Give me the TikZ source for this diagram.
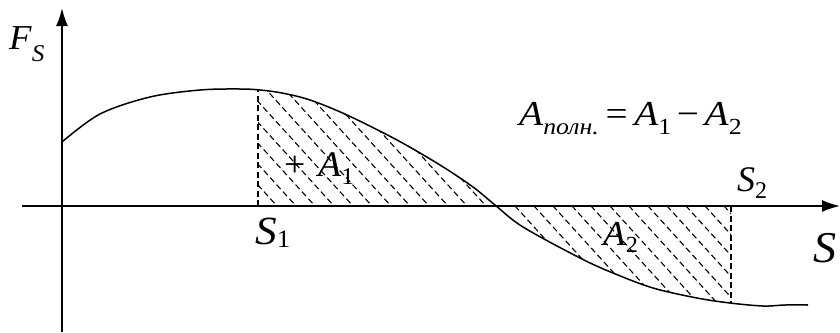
\documentclass[tikz,border=0pt]{standalone}
\usepackage{fontspec}
\setmainfont{Liberation Serif}
\usetikzlibrary{arrows.meta}
\newcommand{\crv}{plot[smooth,tension=0.55] coordinates {(62,142) (100,114) (150,97) (200,90) (240,89) (260,90) (282,93) (310,100) (347,115) (397,140) (440,165) (473,187) (495,205) (523,227) (580,258) (613,273) (653,288) (697,298) (730,303) (763,306) (785,305) (808,305)}}
\newcommand{\lsub}[3]{\raisebox{-#1pt}{\fontsize{#2}{#2}\selectfont #3}}
\newcommand{\fsz}[1]{\fontsize{#1}{#1}\selectfont}
\newcommand{\wide}[2]{\scalebox{#1}[1]{#2}}
\tikzset{
  axis/.style={line width=1.8pt,-{Latex[length=18pt,width=12pt]}},
  fcurve/.style={line width=1.5pt},
  hatch/.style={line width=1.1pt,dash pattern=on 6pt off 3.5pt},
  lbl/.style={inner sep=0pt,anchor=base west},
}
\begin{document}
\begin{tikzpicture}[x=1pt,y=-1pt]
\useasboundingbox (0,0) rectangle (840,332);
% hatching region 1 (above axis)
\begin{scope}
  \clip (258,0) rectangle (731,206);
  \clip \crv -- (808,340) -- (62,340) -- cycle;
  \foreach \a in {258,277,...,760}
    \draw[hatch] (\a-160,206-176) -- (\a+140,206+154);
\end{scope}
% hatching region 2 (below axis)
\begin{scope}
  \clip (258,206) rectangle (731,340);
  \clip \crv -- (808,-10) -- (62,-10) -- cycle;
  \foreach \a in {496,515,...,820}
    \draw[hatch] (\a-160,206-176) -- (\a+140,206+154);
\end{scope}
% axes
\coordinate (yb) at (62,332);
\coordinate (yt) at (62,8);
\coordinate (xl) at (22,206);
\coordinate (xr) at (840,206);
\draw[axis] (yb) -- (yt);
\draw[axis] (xl) -- (xr);
% curve
\draw[fcurve] \crv;
% dashed verticals
\coordinate (s1b) at (258,206);
\coordinate (s1t) at (258,90);
\coordinate (s2t) at (731,206);
\coordinate (s2b) at (731,303);
\draw[hatch] (s1b) -- (s1t);
\draw[hatch] (s2t) -- (s2b);
% labels
\node[lbl] (fs) at (9,49) {\wide{1.05}{\fsz{35}\textit{F}\lsub{12}{24}{\textit{S}}}};
\node[lbl] (s1) at (255,244) {\wide{1.08}{\fsz{40}\textit{S}\lsub{3}{25}{1}}};
\node[lbl] (s2) at (737,191) {\wide{1.0}{\fsz{36}\textit{S}\lsub{7}{24}{2}}};
\node[lbl] (s) at (813,262) {\wide{1.05}{\fsz{44}\textit{S}}};
\node[lbl] (f) at (519,125) {\wide{1.12}{\fsz{35}\textit{A}\lsub{9}{23}{\textit{полн.}}\hspace{6pt}=\hspace{6pt}\textit{A}\lsub{9}{23}{1}\hspace{5pt}\textminus\hspace{5pt}\textit{A}\lsub{9}{23}{2}}};
\node[lbl] (plus) at (284,176) {\wide{1.05}{\fsz{36}+}};
\node[lbl] (a1) at (318,176) {\wide{1.05}{\fsz{36}\textit{A}\lsub{8}{24}{1}}};
\node[lbl] (a2) at (603,245) {\wide{1.05}{\fsz{35}\textit{A}\lsub{7}{23}{2}}};
\end{tikzpicture}
\end{document}
